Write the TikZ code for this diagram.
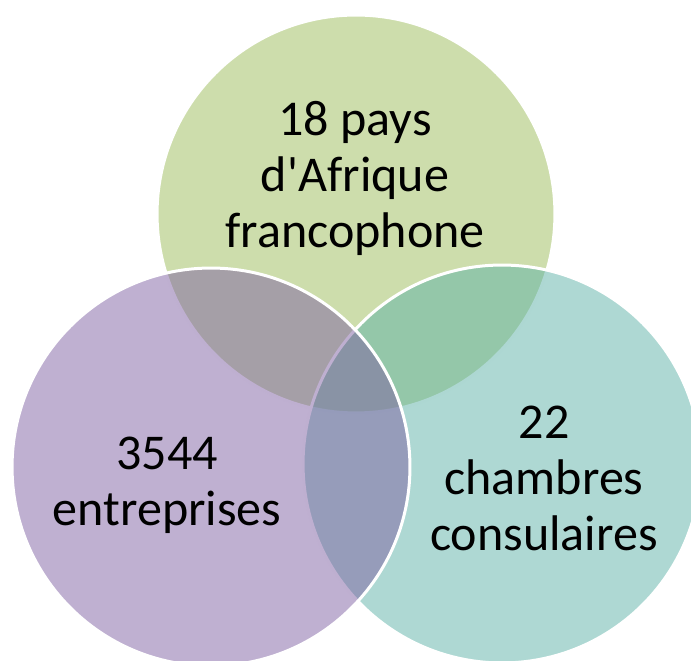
\documentclass[tikz,border=0pt]{standalone}
\usepackage{fontspec}
\setmainfont{Carlito}
\usetikzlibrary{positioning}
\usepackage{xcolor}
\definecolor{paysgreen}{RGB}{155,187,89}
\definecolor{entpurple}{RGB}{127,97,163}
\definecolor{chamteal}{RGB}{93,177,167}

\begin{document}
\begin{tikzpicture}[x=0.02cm,y=-0.02cm,
    venn/.style={circle, draw=white, line width=0.06cm, minimum size=7.96cm, inner sep=0pt, fill opacity=0.5, draw opacity=1},
    venntext/.style={align=center, inner sep=0pt, font=\fontsize{28.5}{31.9}\selectfont}]
    \useasboundingbox (0,0) rectangle (691,661);
    \clip (0,0) rectangle (691,661);
    % three overlapping sets
    \node[venn, fill=paysgreen] (pays) at (356,214) {};
    \node[venn, fill=chamteal] (chambres) at (502,464) {};
    \node[venn, fill=entpurple] (entreprises) at (211,467) {};

    % set labels
    \node[venntext] (paystext) at (355,178) {18 pays\\d\textquotesingle Afrique\\francophone};
    \node[venntext] (enttext) at (167,485) {3544\\entreprises};
    \node[venntext] (chamtext) at (544,478) {22\\chambres\\consulaires};
\end{tikzpicture}
\end{document}
